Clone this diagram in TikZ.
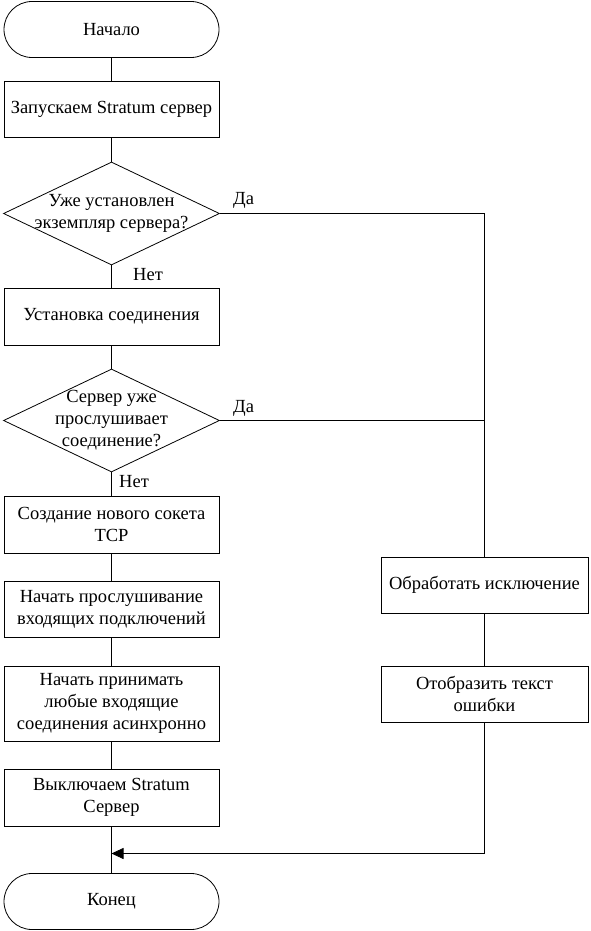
\documentclass[tikz,border=0pt]{standalone}
\usepackage{fontspec}
\setmainfont{Liberation Serif}
\usetikzlibrary{shapes.geometric,arrows.meta}
\begin{document}
\begin{tikzpicture}[x=1pt,y=-1pt,
  every node/.style={font=\fontsize{18.5}{22}\selectfont},
  proc/.style={draw, line width=0.8pt, rectangle, minimum width=215pt, inner sep=0pt, align=center},
  term/.style={draw, line width=0.8pt, rectangle, rounded corners=28pt, minimum width=215pt, minimum height=56pt, inner sep=0pt},
  dec/.style={draw, line width=0.8pt, diamond, minimum width=216pt, minimum height=103pt, inner sep=0pt},
  lbl/.style={inner sep=0pt, anchor=west},
  conn/.style={line width=0.8pt}
]
\useasboundingbox (0,0) rectangle (591,931);
\node[term] (start) at (111.5,29.5) {Начало};
\node[proc, minimum height=56pt] (b1) at (111.5,109) {Запускаем Stratum сервер};
\node[dec, label={[align=center, font=\fontsize{18.5}{22}\selectfont]center:Уже установлен\\экземпляр сервера?}] (d1) at (111.5,213.5) {};
\node[proc, minimum height=57pt] (b2) at (111.5,316.5) {Установка соединения};
\node[dec, label={[align=center, font=\fontsize{18.5}{22}\selectfont]center:Сервер уже\\прослушивает\\соединение?}] (d2) at (111.5,420.5) {};
\node[proc, minimum height=57pt] (b3) at (111.5,524.5) {Создание нового сокета\\TCP};
\node[proc, minimum height=56pt] (b4) at (111.5,609) {Начать прослушивание\\входящих подключений};
\node[proc, minimum height=75pt] (b5) at (111.5,703.5) {Начать принимать\\любые входящие\\соединения асинхронно};
\node[proc, minimum height=57pt] (b6) at (111.5,797.5) {Выключаем Stratum\\Сервер};
\node[term] (end) at (111.5,901.5) {Конец};
\node[proc, minimum width=207pt, minimum height=56pt] (r1) at (484.5,585) {Обработать исключение};
\node[proc, minimum width=207pt, minimum height=56pt] (r2) at (484.5,694) {Отобразить текст\\ошибки};
\node[lbl] (da1) at (233,200) {Да};
\node[lbl] (net1) at (133,275) {Нет};
\node[lbl] (da2) at (233,408) {Да};
\node[lbl] (net2) at (119,482) {Нет};
\coordinate (c1) at (484.5,213.5);
\coordinate (c2) at (484.5,420.5);
\coordinate (c3) at (484.5,853.5);
\coordinate (m) at (111.5,853.5);
\draw[conn] (start) -- (b1);
\draw[conn] (b1) -- (d1);
\draw[conn] (d1) -- (b2);
\draw[conn] (b2) -- (d2);
\draw[conn] (d2) -- (b3);
\draw[conn] (b3) -- (b4);
\draw[conn] (b4) -- (b5);
\draw[conn] (b5) -- (b6);
\draw[conn] (b6) -- (end);
\draw[conn] (d1.east) -- (c1) -- (r1.north);
\draw[conn] (d2.east) -- (c2);
\draw[conn] (r1) -- (r2);
\draw[conn, -{Triangle[length=12pt,width=11pt]}] (r2.south) -- (c3) -- (m);
\end{tikzpicture}
\end{document}
